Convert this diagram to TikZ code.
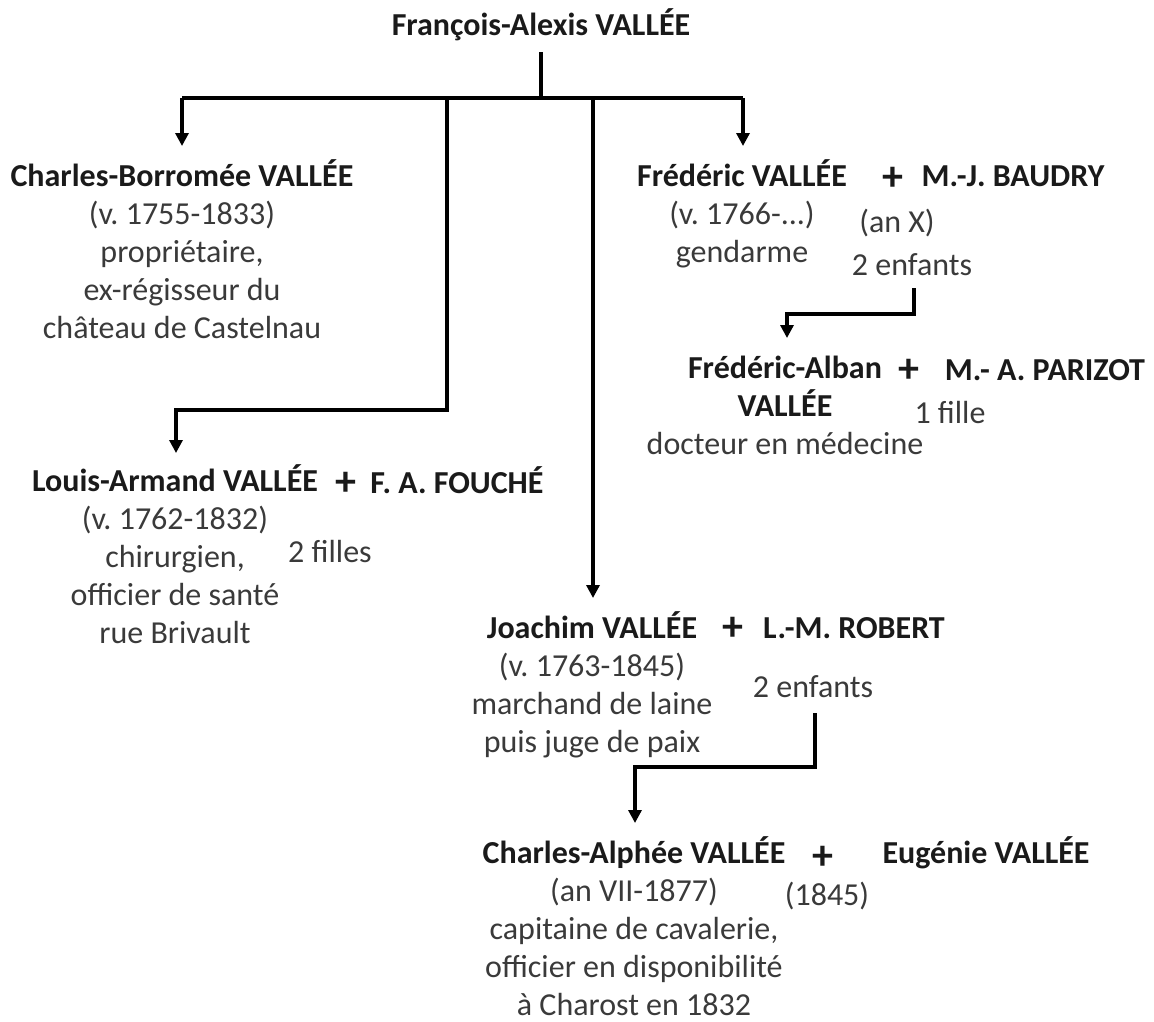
\documentclass[tikz,border=0pt]{standalone}
\usepackage{fontspec}
\setmainfont{Carlito}
\usetikzlibrary{arrows.meta}
\definecolor{namecol}{HTML}{1A1A1A}
\definecolor{infocol}{HTML}{3A3A3A}
\frenchspacing
\begin{document}
\begin{tikzpicture}[x=1pt,y=-1pt,
  txt/.style={inner sep=0pt,anchor=base,align=center,text=infocol,
    font=\fontsize{32}{38}\selectfont},
  nm/.style={txt,text=namecol,font=\fontsize{32}{38}\selectfont\bfseries},
  plus/.style={txt,text=namecol,font=\fontsize{42}{42}\selectfont\bfseries},
  link/.style={line width=3.2pt,draw=black},
  arr/.style={link,-{Triangle[width=13pt,length=13pt]}}]
\useasboundingbox (0,0) rectangle (1154,1021);
% multi-line nodes are placed by the baseline of their last line

% founder
\node[nm] (top) at (541,35) {François-Alexis VALLÉE};

% first generation
\node[txt] (cb) at (182,338) {\textbf{\color{namecol}Charles-Borromée VALLÉE}\\(v. 1755-1833)\\propriétaire,\\ex-régisseur du\\château de Castelnau};

\node[txt] (fr) at (742,262) {\textbf{\color{namecol}Frédéric VALLÉE}\\(v. 1766-...)\\gendarme};
\node[plus] (p1) at (893,190) {+};
\node[nm] (mjb) at (1013,186) {M.-J. BAUDRY};
\node[txt] (anx) at (897,232) {(an X)};
\node[txt] (fre) at (912,275) {2 enfants};

\node[txt] (la) at (175,643) {\textbf{\color{namecol}Louis-Armand VALLÉE}\\(v. 1762-1832)\\chirurgien,\\officier de santé\\rue Brivault};
\node[plus] (p3) at (346,495) {+};
\node[nm] (fou) at (457,493) {F. A. FOUCHÉ};
\node[txt] (laf) at (330,562) {2 filles};

\node[txt] (jo) at (592,752) {\textbf{\color{namecol}Joachim VALLÉE}\\(v. 1763-1845)\\marchand de laine\\puis juge de paix};
\node[plus] (p4) at (733,640) {+};
\node[nm] (rob) at (854,638) {L.-M. ROBERT};
\node[txt] (joe) at (813,697) {2 enfants};

% second generation
\node[txt] (fa) at (785,454) {\textbf{\color{namecol}Frédéric-Alban}\\\textbf{\color{namecol}VALLÉE}\\docteur en médecine};
\node[plus] (p2) at (909,382) {+};
\node[nm] (par) at (1045,380) {M.- A. PARIZOT};
\node[txt] (faf) at (950,423) {1 fille};

\node[txt] (ca) at (634,1015) {\textbf{\color{namecol}Charles-Alphée VALLÉE}\\(an VII-1877)\\capitaine de cavalerie,\\officier en disponibilité\\à Charost en 1832};
\node[plus] (p5) at (823,869) {+};
\node[nm] (eug) at (986,863) {Eugénie VALLÉE};
\node[txt] (mar) at (827,905) {(1845)};

% connector points
\coordinate (t0) at (541,52);
\coordinate (bus) at (541,98);
\coordinate (bl) at (182,98);
\coordinate (br) at (743,98);
\coordinate (bla) at (447,98);
\coordinate (bjo) at (593,98);
\coordinate (cbin) at (182,146);
\coordinate (frin) at (743,146);
\coordinate (lain) at (176,453);
\coordinate (join) at (593,598);
\coordinate (fr0) at (914,288);
\coordinate (fain) at (787,338);
\coordinate (jo0) at (815,713);
\coordinate (cain) at (635,823);

% descent lines
\draw[link] (t0) -- (bus);
\draw[link] (bl) -- (br);
\draw[arr] (bl) -- (cbin);
\draw[arr] (br) -- (frin);
\draw[arr] (bla) |- (176,410) -- (lain);
\draw[arr] (bjo) -- (join);
\draw[arr] (fr0) |- (787,314) -- (fain);
\draw[arr] (jo0) |- (635,767) -- (cain);
\end{tikzpicture}
\end{document}
